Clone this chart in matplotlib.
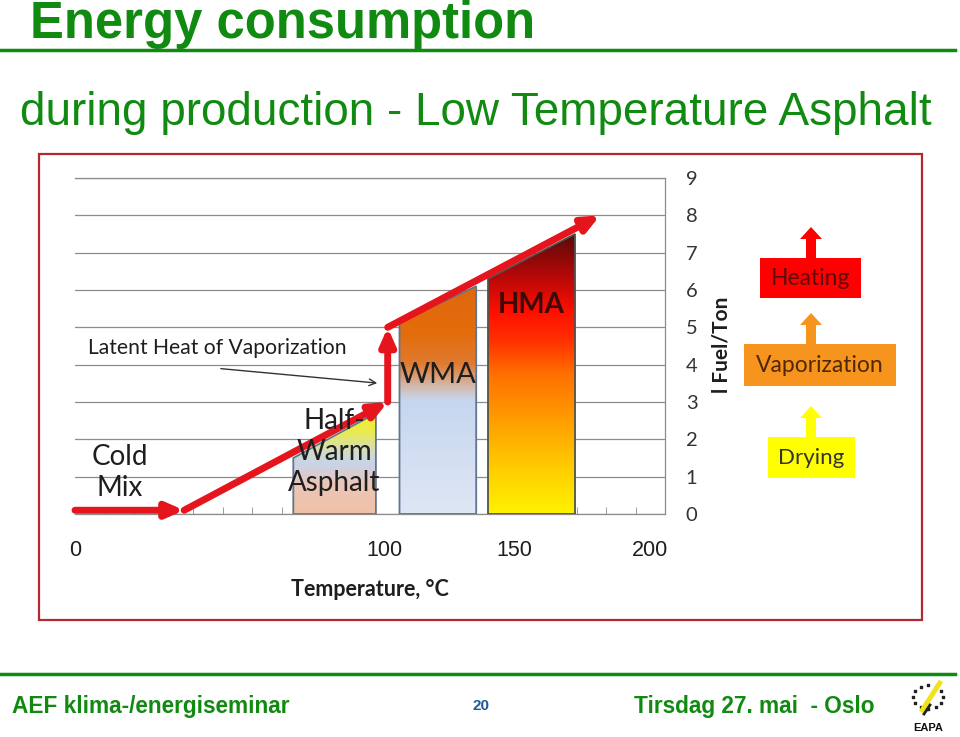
import numpy as np
import matplotlib
matplotlib.use('Agg')
import matplotlib.pyplot as plt
from matplotlib.patches import Polygon, Rectangle, FancyArrowPatch, FancyArrow
from matplotlib.colors import LinearSegmentedColormap

plt.rcParams['font.family'] = ['Lato', 'DejaVu Sans']

# ---- chart data ----
temp_ticks = [0, 105, 149, 195]          # label spots as they sit in the picture
temp_tick_labels = ['0', '100', '150', '200']
fuel_ticks = list(range(10))

# red energy path: temperature (C) vs litres fuel per ton
path_temp = [0, 37, 106, 106, 178]
path_fuel = [0.1, 0.1, 3.0, 5.0, 8.0]

mix_names = ['Half-\nWarm\nAsphalt', 'WMA', 'HMA']
mix_t_start = [74, 110, 140]
mix_t_end = [102, 136, 169.5]
mix_fuel_start = [1.5, 5.15, 6.3]
mix_fuel_end = [2.7, 6.1, 7.5]

stage_names = ['Heating', 'Vaporization', 'Drying']

GREEN = '#118a11'
RED = '#e6141c'

# gradient colours for each bar, bottom -> top
mix_gradients = [
    [(0.0, '#f2c1a6'), (0.3, '#eac6b8'), (0.5, '#c8d4ea'), (0.62, '#d2dcc4'),
     (0.8, '#e9ea55'), (1.0, '#f6f020')],
    [(0.0, '#dfe7f5'), (0.5, '#c6d6ee'), (0.56, '#d3b9ad'), (0.66, '#df7a30'),
     (0.8, '#e46c0a'), (1.0, '#de6810')],
    [(0.0, '#fff200'), (0.15, '#ffd000'), (0.35, '#ff9900'), (0.5, '#ff7000'),
     (0.62, '#ff3000'), (0.72, '#ff1000'), (0.86, '#b00808'), (1.0, '#5a0a0a')],
]
mix_edges = ['#5f7591', '#5f7591', '#4d5550']

fig = plt.figure(figsize=(9.6, 7.37), dpi=100)

# background axes in pixel units for the slide furniture
bg = fig.add_axes([0, 0, 1, 1])
bg.set_xlim(0, 960)
bg.set_ylim(737, 0)
bg.axis('off')

bg.text(30, 38, 'Energy consumption', fontsize=36.5, fontweight='bold', color=GREEN,
        family='Liberation Sans', va='baseline')
bg.plot([0, 955], [50, 50], color=GREEN, lw=2.5)
bg.text(20, 125, 'during production - Low Temperature Asphalt', fontsize=33, color=GREEN,
        family='Liberation Sans', va='baseline')

# frame of the pasted chart
bg.add_patch(Rectangle((39, 154), 883, 466, fill=False, ec='#b22a2e', lw=1.6))

# right hand stage boxes
stage_boxes = [(760, 258, 101, 40), (744, 344, 152, 42), (768, 437, 87, 41)]
stage_fc = ['#fe0000', '#f7941e', '#ffff00']
stage_tc = ['#5e0b0b', '#4f2804', '#333333']
stage_fs = [16.5, 16.5, 16]
for name, (bx, by, bw, bh), fc, tc, fs in zip(stage_names, stage_boxes, stage_fc,
                                             stage_tc, stage_fs):
    bg.add_patch(Rectangle((bx, by), bw, bh, fc=fc, ec='none'))
    bg.text(bx + bw / 2, by + bh / 2, name, fontsize=fs, color=tc, ha='center', va='center')
    bg.add_patch(FancyArrow(811, by, 0, -31, width=10, head_width=22, head_length=12,
                            length_includes_head=True, fc=fc, ec='none'))

bg.text(721, 345, 'l Fuel/Ton', fontsize=15, fontweight='bold', color='#1e1e1e',
        rotation=90, ha='center', va='center')

# footer
bg.plot([0, 955], [674, 674], color=GREEN, lw=2.5)
bg.text(12, 713, 'AEF klima-/energiseminar', fontsize=16.3, fontweight='bold', color=GREEN,
        family='Liberation Sans', va='baseline')
bg.text(481, 710, '20', fontsize=11, fontweight='bold', color='#1f5a96',
        family='Liberation Sans', ha='center', va='baseline')
bg.text(634, 713, 'Tirsdag 27. mai  - Oslo', fontsize=16.3, fontweight='bold', color=GREEN,
        family='Liberation Sans', va='baseline')

# small EAPA logo
ang = np.linspace(0, 2 * np.pi, 13)[:-1]
bg.scatter(928 + 15 * np.cos(ang), 697 + 12 * np.sin(ang), s=3, color='#222222', marker='s')
bg.plot([921, 941], [712, 681], color='#f2e21a', lw=3.5, solid_capstyle='butt')
bg.plot([924, 930], [714, 705], color='#222222', lw=2)
bg.text(928, 731, 'EAPA', fontsize=8, fontweight='bold', color='#111111',
        family='Liberation Sans', ha='center', va='baseline')

# ---- the chart itself ----
ax = fig.add_axes([75 / 960, 1 - 514 / 737, 590 / 960, 336 / 737])
ax.patch.set_alpha(0)

for i, name in enumerate(mix_names):
    x0, x1 = mix_t_start[i], mix_t_end[i]
    ytl, ytr = mix_fuel_start[i], mix_fuel_end[i]
    poly = Polygon([(x0, 0), (x0, ytl), (x1, ytr), (x1, 0)], closed=True,
                   fc='none', ec=mix_edges[i], lw=1.3, zorder=3)
    ax.add_patch(poly)
    cmap = LinearSegmentedColormap.from_list('g%d' % i, mix_gradients[i])
    grad = np.linspace(0, 1, 256).reshape(-1, 1)
    im = ax.imshow(grad, cmap=cmap, origin='lower', aspect='auto',
                   extent=(x0, x1, 0, max(ytl, ytr)), zorder=2)
    im.set_clip_path(poly)

# red path drawn as chained arrows
for i in range(len(path_temp) - 1):
    ax.add_patch(FancyArrowPatch((path_temp[i], path_fuel[i]),
                                 (path_temp[i + 1], path_fuel[i + 1]),
                                 arrowstyle='-|>,head_length=0.5,head_width=0.22',
                                 mutation_scale=20, lw=5, color=RED,
                                 shrinkA=0, shrinkB=0, zorder=5, clip_on=False))

txt = '#1e1e1e'
ax.text(15.3, 1.12, 'Cold\nMix', fontsize=20, color=txt, ha='center', va='center',
        linespacing=1.25, zorder=6)
ax.text(87.8, 1.66, mix_names[0], fontsize=20, color=txt, ha='center', va='center',
        linespacing=1.25, zorder=6)
ax.text(123, 3.73, mix_names[1], fontsize=21, color=txt, ha='center', va='center', zorder=6)
ax.text(154.6, 5.6, mix_names[2], fontsize=20, color='#3d0a0a', fontweight='bold',
        ha='center', va='center', zorder=6)
ax.text(4.4, 4.45, 'Latent Heat of Vaporization', fontsize=15.2, color=txt,
        ha='left', va='center', zorder=6)
ax.add_patch(FancyArrowPatch((48.5, 3.9), (103.4, 3.5), arrowstyle='->',
                             mutation_scale=12, lw=1, color='#333333', zorder=6))

ax.set_xlim(0, 200)
ax.set_ylim(0, 9)
ax.set_axisbelow(True)
ax.grid(axis='y', color='#8c8c8c', lw=0.9)
ax.spines['left'].set_visible(False)
for side in ['top', 'right', 'bottom']:
    ax.spines[side].set_color('#8c8c8c')
    ax.spines[side].set_linewidth(0.9)

ax.yaxis.tick_right()
ax.set_yticks(fuel_ticks)
ax.tick_params(axis='y', length=0, pad=15, labelsize=14.5, labelcolor='#333333')

ax.set_xticks(temp_ticks, temp_tick_labels)
ax.set_xticks(np.arange(0, 201, 10), minor=True)
ax.tick_params(axis='x', which='major', length=0, pad=19, labelsize=15.5, labelcolor='#1e1e1e')
ax.tick_params(axis='x', which='minor', direction='in', length=5, color='#8c8c8c')
for lbl in ax.get_xticklabels():
    lbl.set_family('Liberation Sans')
ax.set_xlabel('Temperature, °C', fontsize=15.5, fontweight='bold', color='#1e1e1e', labelpad=13)

fig.savefig('out.png', dpi=100)
